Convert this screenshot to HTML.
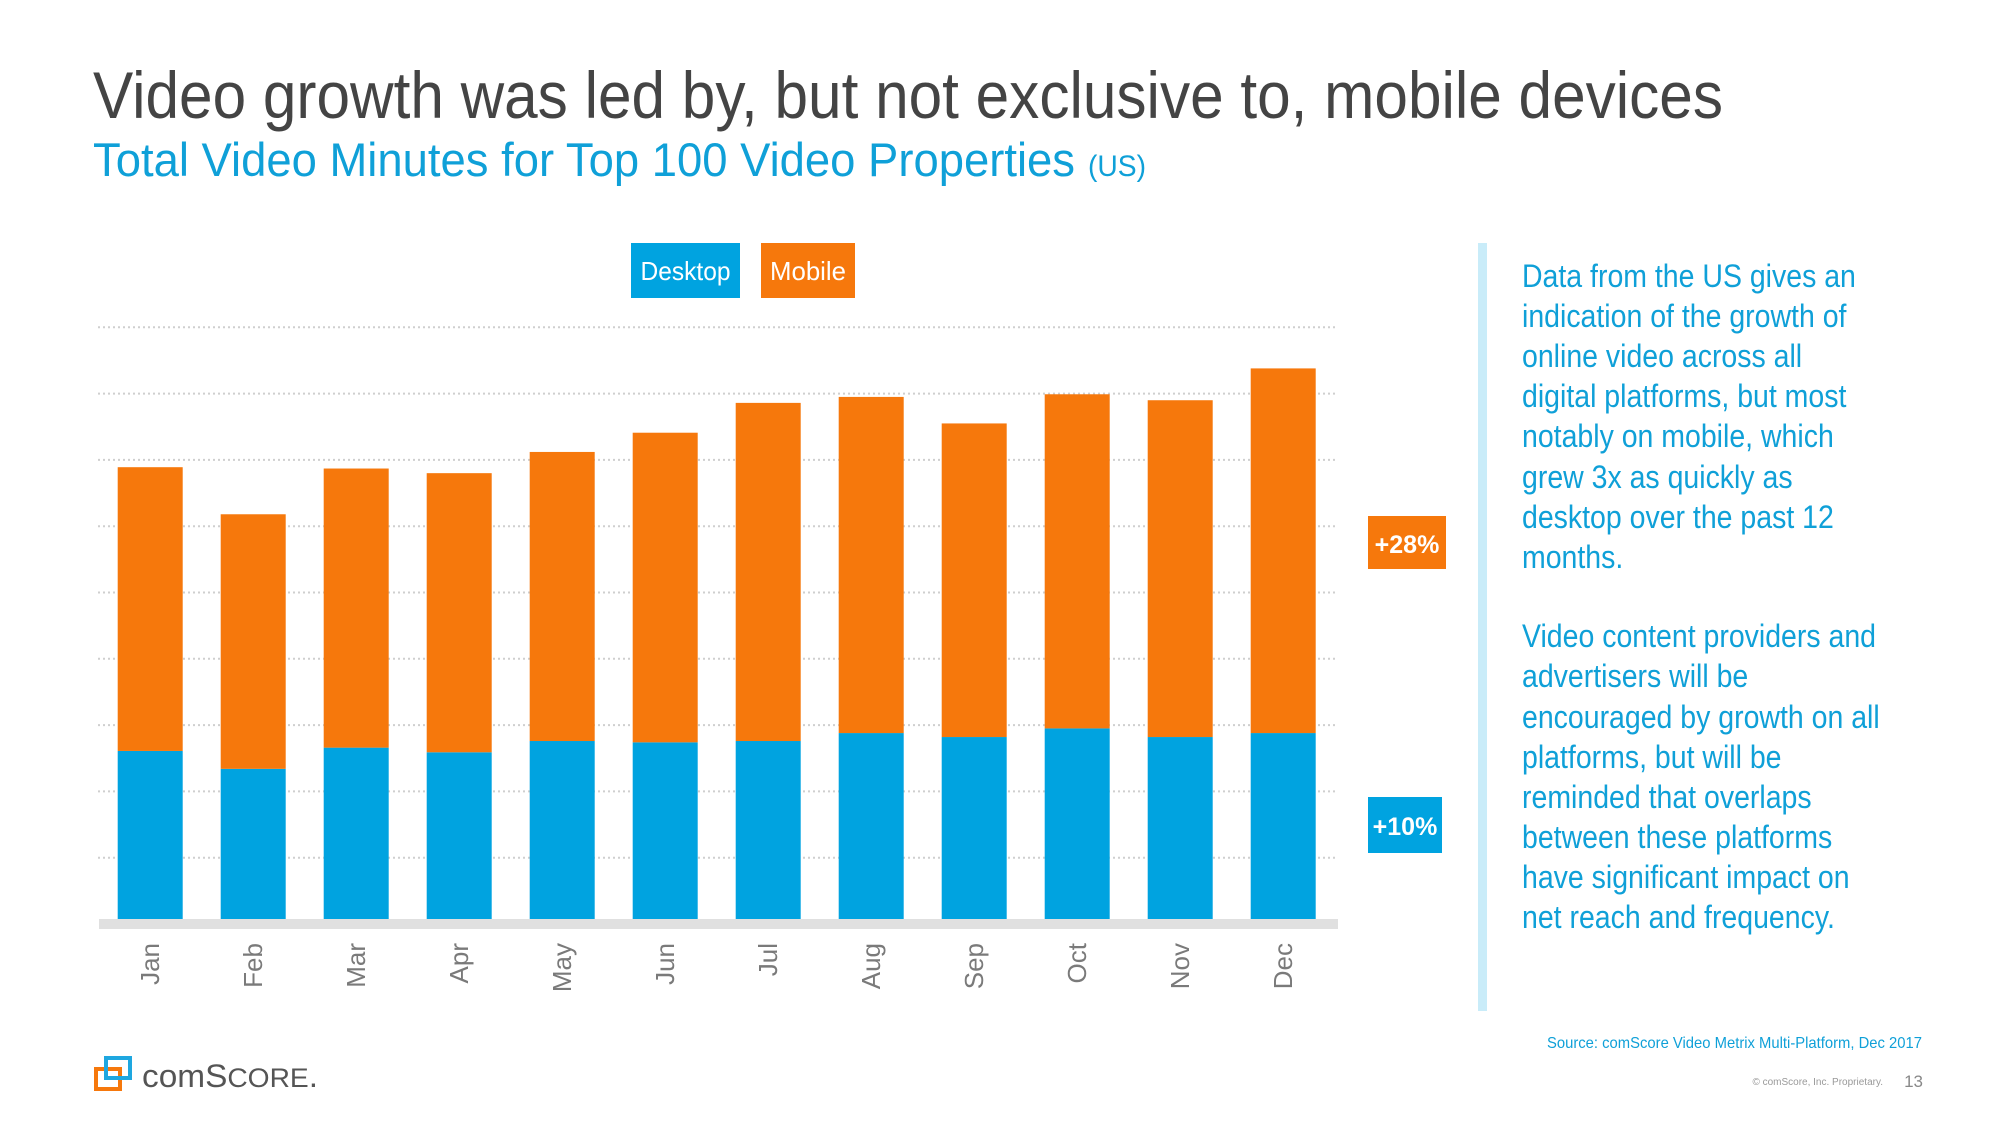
<!DOCTYPE html>
<html><head><meta charset="utf-8"><style>
html,body{margin:0;padding:0;background:#fff;}
svg{display:block;font-family:"Liberation Sans",sans-serif;}
</style></head><body>
<svg width="2000" height="1125" viewBox="0 0 2000 1125">
<text x="93" y="118" font-size="66" fill="#444" textLength="1630" lengthAdjust="spacingAndGlyphs">Video growth was led by, but not exclusive to, mobile devices</text>
<text x="93" y="176" font-size="47" fill="#0fa0d8" textLength="982" lengthAdjust="spacingAndGlyphs">Total Video Minutes for Top 100 Video Properties</text>
<text x="1088" y="176" font-size="30" fill="#0fa0d8" textLength="58" lengthAdjust="spacingAndGlyphs">(US)</text>

<g>
<rect x="631" y="243" width="109" height="55" fill="#00a3e0"/>
<text x="685.5" y="280" font-size="26" fill="#fff" text-anchor="middle" textLength="90" lengthAdjust="spacingAndGlyphs">Desktop</text>
<rect x="761" y="243" width="94" height="55" fill="#f6780c"/>
<text x="808" y="280" font-size="26" fill="#fff" text-anchor="middle" textLength="76" lengthAdjust="spacingAndGlyphs">Mobile</text>
</g>

<g id="grid"></g>
<g id="bars"></g>
<rect x="99" y="919" width="1239" height="10" fill="#e0e0e0"/>
<g id="xlabels"></g>

<rect x="1368" y="516" width="78" height="53" fill="#f6780c"/>
<text x="1407" y="553" font-size="25" font-weight="bold" fill="#fff" text-anchor="middle">+28%</text>
<rect x="1368" y="797" width="74" height="56" fill="#00a3e0"/>
<text x="1405" y="835" font-size="25" font-weight="bold" fill="#fff" text-anchor="middle">+10%</text>

<rect x="1478" y="243" width="9" height="768" fill="#c9ecf9"/>

<g fill="#0fa0d8" font-size="32" transform="translate(1522,0) scale(0.89,1)">
<text>
<tspan x="0" y="287">Data from the US gives an</tspan>
<tspan x="0" y="327">indication of the growth of</tspan>
<tspan x="0" y="367">online video across all</tspan>
<tspan x="0" y="407">digital platforms, but most</tspan>
<tspan x="0" y="447">notably on mobile, which</tspan>
<tspan x="0" y="488">grew 3x as quickly as</tspan>
<tspan x="0" y="528">desktop over the past 12</tspan>
<tspan x="0" y="568">months.</tspan>
</text>
<text>
<tspan x="0" y="647">Video content providers and</tspan>
<tspan x="0" y="687">advertisers will be</tspan>
<tspan x="0" y="728">encouraged by growth on all</tspan>
<tspan x="0" y="768">platforms, but will be</tspan>
<tspan x="0" y="808">reminded that overlaps</tspan>
<tspan x="0" y="848">between these platforms</tspan>
<tspan x="0" y="888">have significant impact on</tspan>
<tspan x="0" y="928">net reach and frequency.</tspan>
</text>
</g>

<text x="1922" y="1048" font-size="16" fill="#0fa0d8" text-anchor="end" textLength="375" lengthAdjust="spacingAndGlyphs">Source: comScore Video Metrix Multi-Platform, Dec 2017</text>
<text x="1883" y="1085" font-size="10" fill="#999" text-anchor="end">© comScore, Inc. Proprietary.</text>
<text x="1923" y="1087" font-size="17" fill="#888" text-anchor="end">13</text>

<g>
<rect x="96" y="1069" width="24" height="20" fill="none" stroke="#f6780c" stroke-width="4"/>
<rect x="106" y="1058" width="24" height="20" fill="none" stroke="#1ea7e0" stroke-width="4"/>
<text x="142" y="1087" font-size="32" fill="#555" textLength="176" lengthAdjust="spacingAndGlyphs">comS<tspan font-size="27">CORE</tspan>.</text>
</g>
</svg>
<script>
const months = ["Jan","Feb","Mar","Apr","May","Jun","Jul","Aug","Sep","Oct","Nov","Dec"];
const desktop = [2.61,2.34,2.66,2.59,2.76,2.74,2.76,2.88,2.82,2.95,2.82,2.88];
const mobile = [4.28,3.84,4.21,4.21,4.36,4.67,5.10,5.07,4.73,5.04,5.08,5.50];
const gridTicks = [1,2,3,4,5,6,7,8,9];

const NS = "http://www.w3.org/2000/svg";
const y0 = 924, unit = 66.3;
const xStart = 117.7, step = 103.0, barW = 65;
function yScale(v){ return y0 - v*unit; }
function xScale(i){ return xStart + i*step; }

const grid = document.getElementById('grid');
gridTicks.forEach(t => {
  const l = document.createElementNS(NS,'line');
  
  
  l.setAttribute('x1', 98); l.setAttribute('x2', 1338);
  l.setAttribute('y1', yScale(t)); l.setAttribute('y2', yScale(t));
  l.setAttribute('stroke', '#cfcfcf'); l.setAttribute('stroke-width', 2);
  l.setAttribute('stroke-dasharray', '2 3');
  grid.appendChild(l);
});

const bars = document.getElementById('bars');
const xl = document.getElementById('xlabels');
months.forEach((m,i) => {
  const x = xScale(i);
  const d = document.createElementNS(NS,'rect');
  
  
  d.setAttribute('x', x); d.setAttribute('width', barW);
  d.setAttribute('y', yScale(desktop[i])); d.setAttribute('height', desktop[i]*unit);
  d.setAttribute('fill', '#00a3e0');
  bars.appendChild(d);
  const mo = document.createElementNS(NS,'rect');
  
  
  mo.setAttribute('x', x); mo.setAttribute('width', barW);
  mo.setAttribute('y', yScale(desktop[i]+mobile[i])); mo.setAttribute('height', mobile[i]*unit);
  mo.setAttribute('fill', '#f6780c');
  bars.appendChild(mo);
  const t = document.createElementNS(NS,'text');
  
  
  const cx = x + barW/2 + 9, cy = 943;
  t.setAttribute('x', cx); t.setAttribute('y', cy);
  t.setAttribute('transform', 'rotate(-90 ' + cx + ' ' + cy + ')');
  t.setAttribute('text-anchor', 'end');
  t.setAttribute('font-size', '26');
  t.setAttribute('fill', '#7a7a7a');
  t.textContent = m;
  xl.appendChild(t);
});
</script>
</body></html>
